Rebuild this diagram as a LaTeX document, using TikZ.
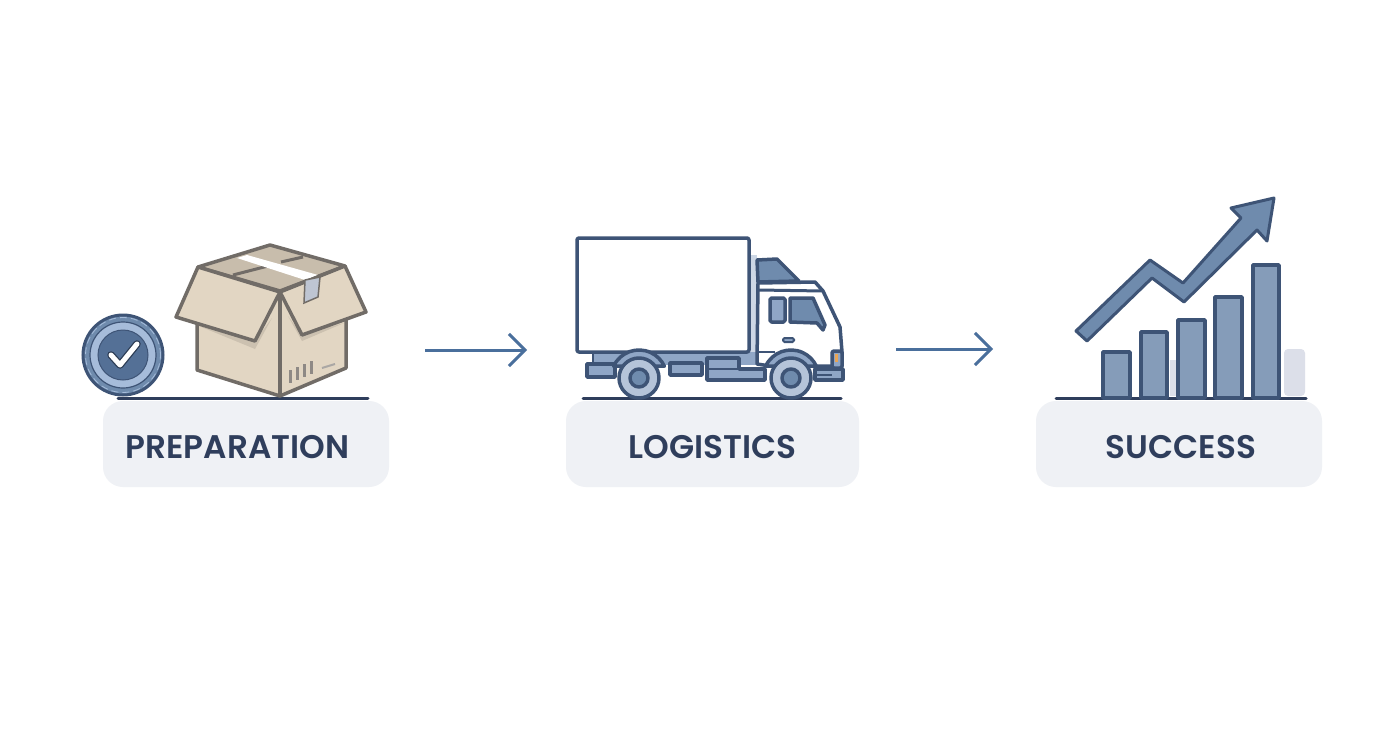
\documentclass[tikz,border=0pt]{standalone}
\usepackage{fontspec}
\setmainfont{Poppins}[BoldFont=Poppins SemiBold]
\usetikzlibrary{arrows.meta}
\definecolor{inkline}{RGB}{47, 62, 92}
\definecolor{steel}{RGB}{62, 84, 118}
\definecolor{midblue}{RGB}{111, 139, 173}
\definecolor{paleblue}{RGB}{143, 166, 198}
\definecolor{ringblue}{RGB}{166, 188, 218}
\definecolor{badgeblue}{RGB}{84, 112, 150}
\definecolor{flowblue}{RGB}{74, 111, 156}
\definecolor{labelbg}{RGB}{239, 241, 245}
\definecolor{carton}{RGB}{226, 214, 195}
\definecolor{cartontop}{RGB}{200, 189, 172}
\definecolor{cartonshade}{RGB}{204, 193, 176}
\definecolor{cartonline}{RGB}{113, 108, 103}
\definecolor{tabgrey}{RGB}{190, 197, 210}
\definecolor{ghostbar}{RGB}{220, 223, 233}
\definecolor{lampamber}{RGB}{232, 164, 84}
\tikzset{
    label box/.style={fill=labelbg, rounded corners=20pt, minimum width=#1, minimum height=86pt, inner sep=0pt,
                      text=inkline, font=\fontsize{32.7}{34}\selectfont\bfseries},
    ground/.style={draw=inkline, line width=3pt, line cap=round},
    flow/.style={draw=flowblue, line width=3pt, -{Straight Barb[length=16pt, width=32pt, line width=3pt]}},
    carton edge/.style={draw=cartonline, line width=3.5pt, line join=round},
    truck edge/.style={draw=steel, line width=3.5pt, line join=round},
    bar/.style={draw=steel, fill=midblue!85!white, line width=3.5pt, line join=round}
}
\begin{document}
\begin{tikzpicture}[x=1pt, y=-1pt]
            \useasboundingbox[fill=white] (0, 0) rectangle (1392, 752);
            % Labels
            \node[label box=286pt] (preparation) at ( 246, 444) {\smash{\raisebox{-14.5pt}{PREPARATION}}\hspace*{17pt}};
            \node[label box=293pt] (logistics)   at ( 712.5, 444) {\smash{\raisebox{-14.5pt}{LOGISTICS}}};
            \node[label box=286pt] (success)     at (1179, 444) {\hspace*{4pt}\smash{\raisebox{-14.5pt}{SUCCESS}}};
            % Ground lines
            \draw[ground] ( 118, 398) -- ( 368, 398);
            \draw[ground] ( 583, 398) -- ( 841, 398);
            \draw[ground] (1056, 398) -- (1306, 398);
            % Box body
            \filldraw[carton edge, fill=carton]      (197, 322) -- (280, 292) -- (346, 320) -- (346, 368) -- (280, 396) -- (197, 370) -- cycle;
            \fill[cartonshade]                       (199, 326) -- (255, 349) -- (272, 318) -- (255, 341) -- cycle;
            \fill[cartonshade]                       (344, 323) -- (302, 341) -- (288, 316) -- (302, 335) -- cycle;
            \draw[carton edge]                       (280, 292) -- (280, 396);
            % Box top
            \filldraw[carton edge, fill=cartontop]   (198, 267) -- (270, 245) -- (345, 266) -- (280, 291) -- cycle;
            \draw[cartonline, line width=3pt]        (233, 275) -- (268, 266);
            \draw[cartonline, line width=3pt]        (281, 262) -- (303, 257);
            \fill[white]                             (237, 258) -- (247, 255) -- (318, 275) -- (305, 280) -- cycle;
            % Box flaps
            \filldraw[carton edge, fill=carton]      (198, 267) -- (280, 292) -- (255, 341) -- (176, 317) -- cycle;
            \filldraw[carton edge, fill=carton]      (345, 266) -- (366, 312) -- (302, 335) -- (280, 292) -- cycle;
            \filldraw[draw=cartonline, fill=tabgrey, line width=1.5pt] (305, 280) -- (320, 277) -- (318, 297) -- (304, 303) -- cycle;
            % Box barcode
            \draw[cartonline!80, line width=3pt]     (290, 370) -- (290, 383);
            \draw[cartonline!80, line width=3pt]     (297, 367) -- (297, 380);
            \draw[cartonline!80, line width=3pt]     (304, 364) -- (304, 377);
            \draw[cartonline!80, line width=3pt]     (311, 361) -- (311, 374);
            \draw[cartonline!60, line width=2pt]     (322, 368) -- (335, 364);
            % Check badge
            \filldraw[draw=steel, fill=midblue, line width=3pt] (123, 355) circle (40pt);
            \draw[ringblue, line width=0.8pt, dash pattern=on 7pt off 4pt] (123, 355) circle (37.5pt);
            \filldraw[draw=steel, fill=ringblue, line width=1.2pt] (123, 355) circle (33pt);
            \filldraw[draw=steel, fill=badgeblue, line width=1pt] (123, 355) circle (25pt);
            \draw[steel!70!black, line width=7.5pt, line join=round, line cap=round] (111, 355) -- (120, 365) -- (137, 344);
            \draw[white, line width=5pt, line join=round, line cap=round] (111, 355) -- (120, 365) -- (137, 344);
            % Chassis
            \fill[paleblue]                                    (593, 352) rectangle (757, 365);
            \fill[paleblue!45!white]                           (749, 255) rectangle (757, 352);
            \draw[steel, line width=2pt]                       (593, 352) -- (593, 365);
            % Rear bumper, side box and tank
            \filldraw[truck edge, fill=paleblue]               (587, 364) rectangle (615, 377);
            \filldraw[truck edge, fill=paleblue]               (670, 363) rectangle (702, 375);
            \filldraw[truck edge, fill=paleblue]               (707, 358) -- (739, 358) -- (739, 369) -- (765, 369) -- (765, 380) -- (707, 380) -- cycle;
            \draw[steel, line width=2.5pt]                     (707, 369) -- (739, 369);
            % Cab
            \filldraw[truck edge, fill=midblue]                (758, 282) -- (757, 260) -- (777, 259) -- (799, 281) -- cycle;
            \filldraw[truck edge, fill=white]                  (758, 283) -- (815, 282) -- (823, 291) -- (840, 327) -- (842, 352) -- (842, 366) -- (770, 366) -- (757, 364) -- cycle;
            \draw[steel, line width=3pt]                       (758, 290) -- (823, 291);
            \filldraw[truck edge, fill=paleblue, rounded corners=1.5pt] (770, 298) rectangle (785, 322);
            \filldraw[truck edge, fill=midblue]                (790, 298) -- (813, 298) -- (825, 325) -- (823, 330) -- (817, 323) -- (790, 322) -- cycle;
            \filldraw[draw=steel, fill=paleblue, line width=2pt, rounded corners=1.5pt] (783, 338) rectangle (794, 342);
            \draw[steel, line width=2.5pt]                     (758, 352) -- (775, 352);
            % Front bumper and lamp
            \filldraw[truck edge, fill=paleblue]               (815, 369) rectangle (843, 380);
            \draw[steel, line width=2pt]                       (815, 375) -- (832, 375);
            \filldraw[truck edge, fill=paleblue, rounded corners=2pt] (832, 351) rectangle (842, 368);
            \fill[lampamber]                                   (835, 354) rectangle (838, 362);
            % Cargo box
            \filldraw[truck edge, fill=white, rounded corners=2pt] (577, 238) rectangle (749, 352);
            % Wheels
            \filldraw[truck edge, fill=paleblue] (639, 378) ++(155:28pt) arc[start angle=155, end angle=25, radius=28pt] -- cycle;
            \filldraw[truck edge, fill=paleblue] (791, 378) ++(155:28pt) arc[start angle=155, end angle=25, radius=28pt] -- cycle;
            \filldraw[truck edge, fill=labelbg!40!paleblue]    (639, 378) circle (20pt);
            \filldraw[truck edge, fill=midblue]                (639, 378) circle (9pt);
            \filldraw[truck edge, fill=labelbg!40!paleblue]    (791, 378) circle (20pt);
            \filldraw[truck edge, fill=midblue]                (791, 378) circle (9pt);
            % Faded bars
            \fill[ghostbar, rounded corners=4pt]               (1284, 349) rectangle (1305, 396);
            \fill[ghostbar]                                    (1170, 360) rectangle (1177, 396);
            % Bars
            \filldraw[bar] (1103, 352) rectangle (1130, 398);
            \filldraw[bar] (1141, 332) rectangle (1167, 398);
            \filldraw[bar] (1178, 320) rectangle (1205, 398);
            \filldraw[bar] (1215, 297) rectangle (1242, 398);
            \filldraw[bar] (1253, 265) rectangle (1279, 398);
            % Rising arrow
            \filldraw[draw=steel, fill=midblue, line width=3pt, line join=round]
                (1076, 331) -- (1150, 260) -- (1183, 283) -- (1241, 218) -- (1231, 208) -- (1274, 198) -- (1267, 241) -- (1257, 230) -- (1184, 302) -- (1152, 278) -- (1087, 341) -- cycle;
            % Flow arrows
            \coordinate (prepout) at ( 425, 350);
            \coordinate (logiin)  at ( 527, 350);
            \coordinate (logiout) at ( 896, 349);
            \coordinate (succin)  at ( 993, 349);
            \draw[flow] (prepout) -- (logiin);
            \draw[flow] (logiout) -- (succin);
\end{tikzpicture}
\end{document}
